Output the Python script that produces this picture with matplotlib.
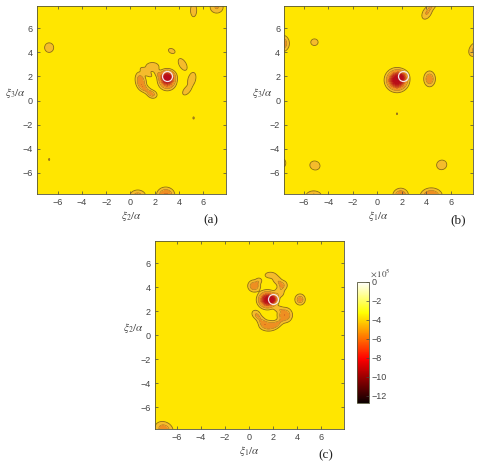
import numpy as np
import matplotlib
matplotlib.use('Agg')
import matplotlib.pyplot as plt

plt.rcParams['font.family'] = ['Liberation Sans', 'DejaVu Sans']
plt.rcParams['mathtext.fontset'] = 'stix'

W, H = 480, 462
BACKGROUND = -3.74
LEVELS = [-16, -9.6, -8.8, -8.2, -7.6, -7.0, -6.4, -5.8, -5.0, -4.2, 0]
BAND_COLORS = ['#b80a1c', '#b80e18', '#bc1818', '#c22a1a', '#c8401c', '#cf581e', '#da7220',
               '#ee8f22', '#f5bb2c', '#ffe600']
TICKS = [-6, -4, -2, 0, 2, 4, 6]
CBAR_TICKS = [0, -2, -4, -6, -8, -10, -12]

# lobes of each map: x, y, sigma x, sigma y, angle in degrees, depth
lobes_a = [
    (3.03, 1.55, 0.46, 0.44, 0, 3.2), (3.03, 1.98, 0.44, 0.38, 0, 4.8),
    (1.8, 2.8, 0.42, 0.28, 0, 1.2), (1.3, 2.35, 0.46, 0.18, -38, 1.0),
    (0.85, 1.6, 0.30, 0.52, 12, 1.9), (1.3, 0.9, 0.46, 0.22, -38, 1.2),
    (1.8, 0.52, 0.30, 0.24, -20, 1.25), (2.25, 2.25, 0.30, 0.18, -55, 0.9),
    (3.4, 4.12, 0.24, 0.16, -25, 1.0), (4.3, 3.0, 0.22, 0.42, 30, 1.2),
    (5.05, 1.75, 0.24, 0.46, -15, 1.25), (4.65, 0.85, 0.36, 0.20, 50, 1.15),
    (-6.7, 4.4, 0.30, 0.32, 0, 1.1), (5.2, 7.5, 0.20, 0.42, 0, 1.15),
    (7.1, 7.75, 0.40, 0.36, 0, 1.3), (0.6, -7.95, 0.46, 0.36, 0, 1.6),
    (2.9, -7.85, 0.48, 0.42, 0, 2.3), (5.2, -1.45, 0.06, 0.10, 0, 0.7),
    (-6.7, -4.9, 0.05, 0.09, 0, 0.7),
]
lobes_b = [
    (1.6, 1.7, 0.56, 0.56, 0, 6.0), (2.05, 2.0, 0.30, 0.30, 0, 2.0),
    (4.26, 1.8, 0.32, 0.44, 0, 1.9), (-7.75, 4.75, 0.38, 0.46, 0, 1.9),
    (-5.14, 4.85, 0.24, 0.22, 0, 1.1), (-5.1, -5.4, 0.32, 0.28, -20, 1.25),
    (5.25, -5.35, 0.32, 0.30, 25, 1.25), (-7.8, -5.2, 0.25, 0.31, 0, 1.2),
    (-5.2, -8.0, 0.48, 0.35, 0, 1.5), (1.9, -7.9, 0.42, 0.40, 0, 2.1),
    (4.4, -7.95, 0.58, 0.44, 0, 2.3), (4.05, 7.3, 0.26, 0.44, -30, 1.3),
    (4.5, 8.0, 0.24, 0.36, -30, 1.1), (7.95, 4.25, 0.32, 0.46, -30, 1.4),
    (1.6, -1.1, 0.05, 0.08, 0, 0.7),
]
lobes_c = [
    (1.55, 2.95, 0.50, 0.46, 0, 5.5), (2.0, 2.97, 0.30, 0.30, 0, 3.0),
    (0.45, 4.1, 0.36, 0.34, 0, 1.9), (0.85, 4.55, 0.20, 0.18, 0, 0.85),
    (4.27, 2.97, 0.30, 0.32, 0, 1.7), (1.8, 5.0, 0.36, 0.20, 0, 1.05),
    (2.35, 4.6, 0.32, 0.24, -45, 1.1), (2.8, 4.15, 0.30, 0.30, 0, 1.35),
    (2.55, 3.55, 0.30, 0.30, 0, 1.05), (3.0, 1.67, 0.42, 0.42, 0, 2.1),
    (1.64, 0.78, 0.52, 0.30, 0, 1.9), (0.62, 1.72, 0.30, 0.24, -45, 1.2),
    (1.05, 1.2, 0.38, 0.24, -45, 1.2), (2.4, 0.98, 0.36, 0.22, 30, 1.15),
    (2.45, 2.2, 0.26, 0.18, 0, 0.85), (-7.05, -7.85, 0.54, 0.42, -25, 1.7),
]
# white ring around the source point of each map
source_a = (3.03, 2.0)
source_b = (2.05, 2.0)
source_c = (2.0, 2.97)

# axes box in pixels and axis limits for each map
box_a = (37, 6, 189, 188)
box_b = (284.3, 6, 189, 188)
box_c = (155, 241, 188.7, 188.3)
xlim_a, ylim_a = (-7.7, 7.87), (-7.77, 7.86)
xlim_b, ylim_b = (-7.6, 7.83), (-7.77, 7.86)
xlim_c, ylim_c = (-7.8, 7.9), (-7.86, 7.85)


def add_axes_px(fig, box):
    x, y, w, h = box
    return fig.add_axes([x / W, 1 - (y + h) / H, w / W, h / H])


def build_field(lobes, xlim, ylim):
    x = np.linspace(xlim[0], xlim[1], 500)
    y = np.linspace(ylim[0], ylim[1], 500)
    X, Y = np.meshgrid(x, y)
    Z = np.full(X.shape, BACKGROUND)
    for x0, y0, sx, sy, ang, depth in lobes:
        t = np.radians(ang)
        u = (X - x0) * np.cos(t) + (Y - y0) * np.sin(t)
        v = -(X - x0) * np.sin(t) + (Y - y0) * np.cos(t)
        # flat-topped lobes, steeper at the rim than a plain gaussian
        Z -= depth * np.exp(-0.5 * ((u / sx) ** 2 + (v / sy) ** 2) ** 1.3)
    return X, Y, Z


def draw_map(fig, box, lobes, source, xlim, ylim, xlabel, ylabel):
    ax = add_axes_px(fig, box)
    X, Y, Z = build_field(lobes, xlim, ylim)
    ax.contourf(X, Y, Z, levels=LEVELS, colors=BAND_COLORS)
    ax.contour(X, Y, Z, levels=[-4.2], colors='#8a6420', linewidths=0.6, linestyles='solid')
    ax.contour(X, Y, Z, levels=[-5.0], colors='#a86c20', linewidths=0.4, linestyles='solid')
    ax.plot(source[0], source[1], 'o', ms=7.2, mfc='none', mec='#f4e6e6', mew=0.9)
    ax.set_xlim(xlim)
    ax.set_ylim(ylim)
    ax.set_xticks(TICKS)
    ax.set_yticks(TICKS)
    ax.tick_params(direction='in', length=2, width=0.5, labelsize=6.5,
                   colors='#444444', pad=3, top=True, right=True)
    for s in ax.spines.values():
        s.set_linewidth(0.6)
        s.set_color('#55553a')
    ax.set_xlabel(xlabel, fontsize=8, color='#444444', labelpad=1)
    ax.set_ylabel(ylabel, fontsize=8, color='#444444', rotation=0, labelpad=5)
    return ax


fig = plt.figure(figsize=(W / 100, H / 100), dpi=100)

draw_map(fig, box_a, lobes_a, source_a, xlim_a, ylim_a, r'$\xi_2/\alpha$', r'$\xi_3/\alpha$')
draw_map(fig, box_b, lobes_b, source_b, xlim_b, ylim_b, r'$\xi_1/\alpha$', r'$\xi_3/\alpha$')
draw_map(fig, box_c, lobes_c, source_c, xlim_c, ylim_c, r'$\xi_1/\alpha$', r'$\xi_2/\alpha$')

# panel letters
for label, px, py in [('(a)', 211, 220), ('(b)', 458, 220), ('(c)', 326, 455)]:
    fig.text(px / W, 1 - py / H, label, fontsize=9.5, family='Liberation Serif',
             ha='center', va='center', color='#222222')

# shared colour bar
cax = add_axes_px(fig, (356.7, 281.7, 12, 121.6))
sm = plt.cm.ScalarMappable(norm=plt.Normalize(-12.8, 0), cmap='hot')
cb = fig.colorbar(sm, cax=cax)
cb.set_ticks(CBAR_TICKS)
cb.ax.tick_params(direction='in', length=2, width=0.5, labelsize=6.5, colors='#444444', pad=2)
cb.outline.set_linewidth(0.6)
cb.outline.set_edgecolor('#55553a')
fig.text(370 / W, 1 - 273 / H, r'$\times\,10^5$', fontsize=6.5, color='#444444', ha='left', va='center')

fig.savefig('out.png', dpi=100)
